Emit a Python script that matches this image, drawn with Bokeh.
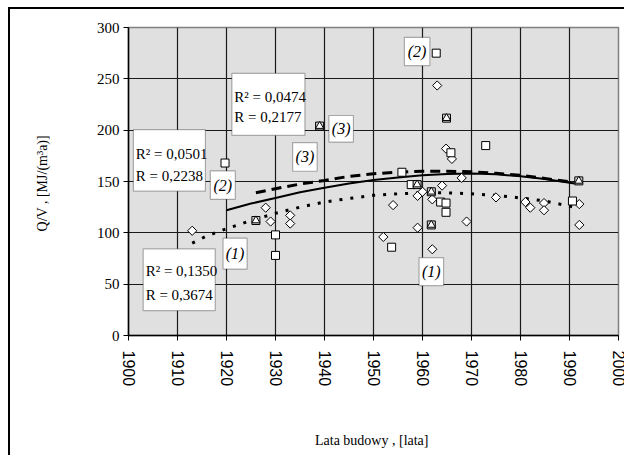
import math
from bokeh.plotting import figure
from bokeh.models import Label, BoxAnnotation, FixedTicker, Range1d
from bokeh.embed import file_html
from bokeh.resources import INLINE

# --- data: series (1) diamonds, (2) squares, (3) triangles ---
years_1 = [1913, 1928, 1929, 1933, 1933, 1952, 1954, 1959, 1959, 1960, 1962, 1962, 1963,
           1964, 1964.8, 1966, 1968, 1969, 1975, 1981, 1982, 1984.8, 1984.8, 1992, 1992]
qv_1 = [102, 124.5, 111, 117, 109, 96, 127, 136, 105, 140, 132.6, 84, 243.5,
        146, 182, 172, 153.5, 111, 134.5, 130, 124.5, 129, 122, 128, 107.7]

years_2 = [1919.7, 1930, 1930, 1953.7, 1955.8, 1957.7, 1962.8, 1963.7, 1964.8, 1964.8,
           1965.8, 1972.9, 1990.6]
qv_2 = [168, 98, 78, 86, 159, 147, 275, 130, 129, 120, 178, 185, 131]

years_3 = [1926, 1939, 1958.9, 1961.8, 1961.8, 1964.9, 1991.9]
qv_3 = [112, 204, 147, 140, 107.7, 211.7, 150.6]

# trend lines
trend_years_1 = [1913, 1916, 1920, 1925, 1930, 1935, 1940, 1945, 1950, 1955, 1960, 1965, 1970, 1975, 1980, 1985, 1992]
trend_qv_1 = [90, 97, 104, 112, 119, 125, 130, 133.5, 136.5, 138, 139, 139, 138, 136.5, 134, 131, 124]

trend_years_2 = [1920, 1925, 1930, 1935, 1940, 1945, 1950, 1955, 1960, 1965, 1970, 1975, 1980, 1985, 1991]
trend_qv_2 = [122, 128.5, 134, 139.5, 144, 148, 151.5, 154, 156, 157.3, 157.8, 157, 155, 152.5, 148]

trend_years_3 = [1926, 1930, 1935, 1940, 1945, 1950, 1955, 1960, 1965, 1970, 1975, 1980, 1985, 1991]
trend_qv_3 = [139, 143, 147.5, 151, 155, 157.5, 159.2, 160, 160, 159.5, 158, 156, 153, 149]

x_ticks = [1900, 1910, 1920, 1930, 1940, 1950, 1960, 1970, 1980, 1990, 2000]
y_ticks = [0, 50, 100, 150, 200, 250, 300]

serif = "Liberation Serif"
sans = "Liberation Sans"

p = figure(width=616, height=448, output_backend="svg", toolbar_location=None,
           x_range=Range1d(1900, 2000), y_range=Range1d(0, 300),
           min_border_left=118, min_border_right=8, min_border_top=18, min_border_bottom=122,
           background_fill_color="#e0e0e0", border_fill_color="white",
           styles={"margin-left": "8px", "margin-top": "7px",
                   "border-top": "2px solid black", "border-left": "2px solid black"})
p.outline_line_color = "#808080"
p.outline_line_width = 1.5

p.xaxis.ticker = FixedTicker(ticks=x_ticks)
p.yaxis.ticker = FixedTicker(ticks=y_ticks)
p.xgrid.ticker = FixedTicker(ticks=x_ticks)
p.ygrid.ticker = FixedTicker(ticks=y_ticks)
for g in (p.xgrid, p.ygrid):
    g.grid_line_color = "#1a1a1a"
    g.grid_line_width = 1.2

for ax in (p.xaxis, p.yaxis):
    ax.axis_line_color = "black"
    ax.axis_line_width = 1.5
    ax.major_tick_line_color = "black"
    ax.major_tick_out = 5
    ax.major_tick_in = 0
    ax.minor_tick_line_color = None
    ax.major_label_text_color = "black"
    ax.axis_label_text_color = "black"
    ax.axis_label_text_font_style = "normal"

p.xaxis.major_label_orientation = "vertical"
p.xaxis.major_label_text_font = sans
p.xaxis.major_label_text_font_size = "16px"
p.xaxis.major_label_standoff = 10
p.xaxis.axis_label = "Lata budowy ,  [lata]"
p.xaxis.axis_label_text_font = serif
p.xaxis.axis_label_text_font_size = "14px"
p.xaxis.axis_label_standoff = 44

p.yaxis.major_label_text_font = serif
p.yaxis.major_label_text_font_size = "15px"
p.yaxis.major_label_standoff = 4
p.yaxis.axis_label = "Q/V ,  [MJ/(m³a)]"
p.yaxis.axis_label_text_font = serif
p.yaxis.axis_label_text_font_size = "14px"
p.yaxis.axis_label_standoff = 44

# trend lines
p.line(trend_years_1, trend_qv_1, line_color="black", line_width=3, line_dash="3 8")
p.line(trend_years_2, trend_qv_2, line_color="black", line_width=2)
p.line(trend_years_3, trend_qv_3, line_color="black", line_width=3, line_dash="10 6")

# markers
p.scatter(years_1, qv_1, marker="square", angle=math.pi / 4, size=6.5,
          fill_color="white", line_color="black", line_width=1)
p.scatter(years_2, qv_2, marker="square", size=8, fill_color="white", line_color="black", line_width=1)
p.scatter(years_3, qv_3, marker="square", size=8, fill_color="#d0d0d0", line_color="black", line_width=1)
p.scatter(years_3, qv_3, marker="triangle", size=8, fill_color="white", line_color="black", line_width=1)

# annotation boxes (data coords)
boxes = [
    (1921.1, 1936.0, 194.9, 255.4),
    (1901.0, 1915.7, 140.6, 200.5),
    (1903.0, 1917.7, 24.2, 84.4),
    (1916.7, 1921.8, 132.6, 160.3),
    (1933.5, 1938.5, 160.0, 187.9),
    (1940.9, 1945.9, 188.4, 214.3),
    (1956.3, 1961.5, 262.8, 290.3),
    (1919.3, 1924.2, 64.7, 94.8),
    (1959.3, 1964.3, 48.5, 75.9),
]
for l, r, b, t in boxes:
    p.add_layout(BoxAnnotation(left=l, right=r, bottom=b, top=t, fill_color="white", fill_alpha=1.0,
                               line_color="black", line_width=1.2, level="annotation"))

r_texts = [
    (1921.6, 232.1, "R² = 0,0474"), (1921.6, 212.7, "R  = 0,2177"),
    (1901.5, 177.2, "R² = 0,0501"), (1901.5, 155.5, "R  = 0,2238"),
    (1903.5, 62.4, "R² = 0,1350"), (1903.5, 39.8, "R  = 0,3674"),
]
for x, y, t in r_texts:
    p.add_layout(Label(x=x, y=y, text=t, text_font=serif, text_font_size="15px",
                       text_align="left", text_baseline="middle", text_color="black"))

n_texts = [
    (1919.25, 146.5, "(2)"), (1936.0, 174.0, "(3)"), (1943.4, 201.4, "(3)"),
    (1958.9, 276.5, "(2)"), (1921.75, 79.7, "(1)"), (1961.8, 62.2, "(1)"),
]
for x, y, t in n_texts:
    p.add_layout(Label(x=x, y=y, text=t, text_font=serif, text_font_size="16px", text_font_style="italic",
                       text_align="center", text_baseline="middle", text_color="black"))

open("out.html", "w").write(file_html(p, INLINE))
